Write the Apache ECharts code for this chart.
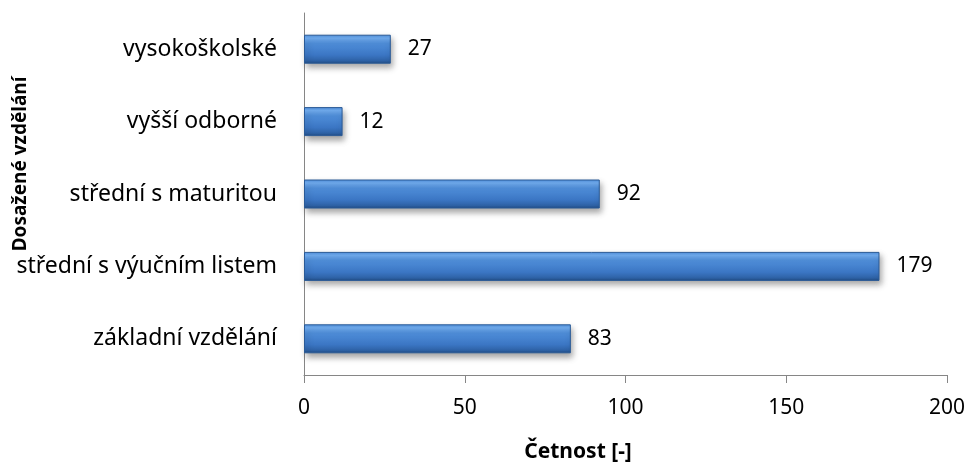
<!DOCTYPE html>
<html>
<head>
<meta charset="utf-8">
<script src="https://cdn.jsdelivr.net/npm/echarts@6/dist/echarts.min.js"></script>
<style>
  html, body { margin: 0; padding: 0; background: #fff; }
  #chart { width: 971px; height: 467px; }
</style>
</head>
<body>
<div id="chart"></div>
<script>
// Education levels, listed bottom to top
const categories = [
  'základní vzdělání',
  'střední s výučním listem',
  'střední s maturitou',
  'vyšší odborné',
  'vysokoškolské'
];
const counts = [83, 179, 92, 12, 27];
const xTicks = { min: 0, max: 200, interval: 50 };

const FONT = '"Noto Sans", "Open Sans", sans-serif';
const AXIS_GRAY = '#868686';

const chart = echarts.init(document.getElementById('chart'), null, { renderer: 'canvas' });

chart.setOption({
  animation: false,
  backgroundColor: '#ffffff',
  textStyle: { fontFamily: FONT },
  grid: { left: 304, right: 24, top: 13, bottom: 92, containLabel: false },
  xAxis: {
    type: 'value',
    min: xTicks.min,
    max: xTicks.max,
    interval: xTicks.interval,
    axisLine: { show: true, lineStyle: { color: AXIS_GRAY, width: 1 } },
    axisTick: { show: true, inside: false, length: 8, lineStyle: { color: AXIS_GRAY } },
    axisLabel: { margin: 23, fontFamily: FONT, fontSize: 21, color: '#000' },
    splitLine: { show: false }
  },
  yAxis: {
    type: 'category',
    data: categories,
    axisLine: { show: true, lineStyle: { color: AXIS_GRAY, width: 1 } },
    axisTick: { show: false },
    axisLabel: { margin: 27, fontFamily: FONT, fontSize: 23, color: '#000' }
  },
  graphic: [{
    type: 'text',
    x: 21,
    y: 164,
    rotation: Math.PI / 2,
    style: {
      text: 'Dosažené vzdělání',
      fontFamily: FONT,
      fontSize: 19,
      fontWeight: 'bold',
      fill: '#000',
      align: 'center',
      verticalAlign: 'middle'
    }
  }, {
    type: 'text',
    x: 578,
    y: 452,
    style: {
      text: 'Četnost [-]',
      fontFamily: FONT,
      fontSize: 21,
      fontWeight: 'bold',
      fill: '#000',
      align: 'center',
      verticalAlign: 'middle'
    }
  }],
  series: [{
    type: 'bar',
    data: counts,
    barWidth: 29,
    itemStyle: {
      color: new echarts.graphic.LinearGradient(0, 0, 0, 1, [
        { offset: 0, color: '#4f8fdc' },
        { offset: 0.12, color: '#72aef2' },
        { offset: 0.3, color: '#4f8ed9' },
        { offset: 0.7, color: '#3b76c4' },
        { offset: 0.9, color: '#2e62a6' },
        { offset: 1, color: '#1f4a82' }
      ]),
      borderColor: '#2a5a96',
      borderWidth: 1,
      shadowColor: 'rgba(0,0,0,0.35)',
      shadowBlur: 6,
      shadowOffsetY: 4,
      shadowOffsetX: 2
    },
    label: {
      show: true,
      position: 'right',
      distance: 17,
      fontFamily: FONT,
      fontSize: 21,
      color: '#000'
    }
  }]
});
</script>
</body>
</html>
